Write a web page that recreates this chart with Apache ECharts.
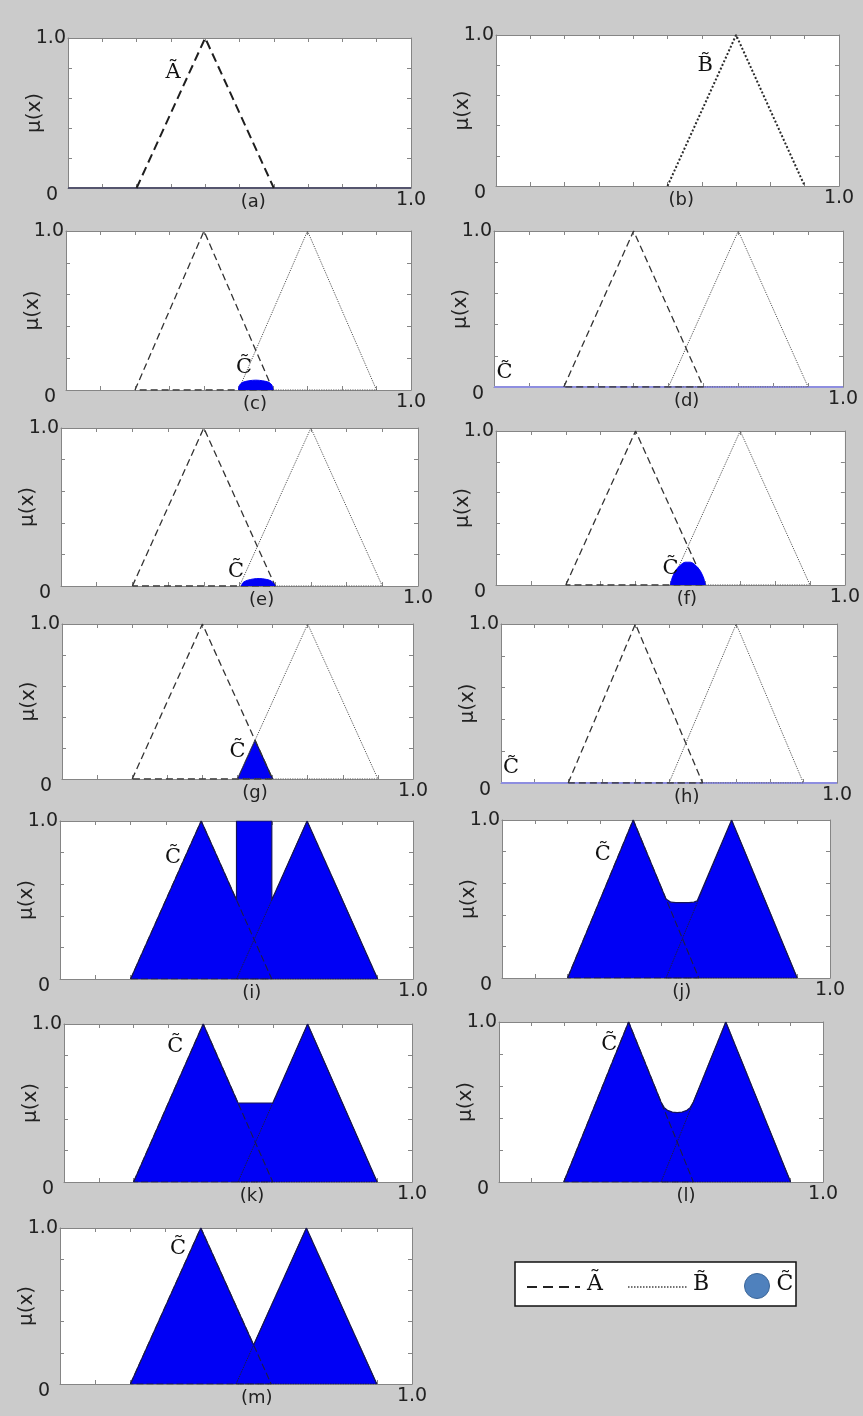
<!DOCTYPE html>
<html>
<head>
<meta charset="utf-8">
<script src="https://cdn.jsdelivr.net/npm/echarts@6/dist/echarts.min.js"></script>
<style>
html,body{margin:0;padding:0;background:#cbcbcb;}
#c{width:863px;height:1416px;}
</style>
</head>
<body>
<div id="c"></div>
<script>
// ---- data ----
const panelTitles = ['(a)','(b)','(c)','(d)','(e)','(f)','(g)','(h)','(i)','(j)','(k)','(l)','(m)'];
const xTickLabel = '1.0';
const yTickLabels = ['0','1.0'];
const A_pts = [[0.2,0],[0.4,1],[0.6,0],[0.2,0]];
const B_pts = [[0.5,0],[0.7,1],[0.9,0],[0.5,0]];
const C_zero = [[0,0],[1,0]];
const C_c = [[0.5,0],[0.503,0.03],[0.512,0.048],[0.53,0.058],[0.55,0.062],[0.57,0.058],[0.588,0.048],[0.597,0.03],[0.6,0]];
const C_e = [[0.505,0],[0.51,0.022],[0.522,0.036],[0.54,0.045],[0.555,0.047],[0.575,0.042],[0.59,0.03],[0.6,0]];
const C_f = [[0.5,0],[0.504,0.04],[0.514,0.09],[0.528,0.128],[0.543,0.148],[0.557,0.148],[0.572,0.128],[0.586,0.09],[0.596,0.04],[0.6,0]];
const C_g = [[0.5,0],[0.55,0.25],[0.6,0]];
const C_i = [[0.2,0],[0.4,1],[0.5,0.5],[0.5,1],[0.6,1],[0.6,0.5],[0.7,1],[0.9,0]];
const C_j = [[0.2,0],[0.4,1],[0.5,0.5],[0.505,0.488],[0.515,0.48],[0.53,0.477],[0.57,0.477],[0.585,0.48],[0.595,0.488],[0.6,0.5],[0.7,1],[0.9,0]];
const C_k = [[0.2,0],[0.4,1],[0.5,0.5],[0.6,0.5],[0.7,1],[0.9,0]];
const C_l = [[0.2,0],[0.4,1],[0.5,0.5],[0.51,0.465],[0.52,0.448],[0.535,0.437],[0.55,0.434],[0.565,0.437],[0.58,0.448],[0.59,0.465],[0.6,0.5],[0.7,1],[0.9,0]];
const C_m = [[0.2,0],[0.4,1],[0.55,0.25],[0.7,1],[0.9,0]];
// set-label text and anchor (data coordinates)
const setLabels = [
  ['Ã',[0.306,0.77]], ['B̃',[0.61,0.80]], ['C̃',[0.516,0.14]], ['C̃',[0.03,0.09]],
  ['C̃',[0.49,0.09]], ['C̃',[0.50,0.11]], ['C̃',[0.50,0.18]], ['C̃',[0.03,0.095]],
  ['C̃',[0.32,0.77]], ['C̃',[0.307,0.78]], ['C̃',[0.32,0.86]], ['C̃',[0.34,0.86]], ['C̃',[0.335,0.87]]
];

// ---- layout ----
const rects = [
  [68,38,343,150],[496,35,343,151],
  [66,231,345,159],[494,231,349,156],
  [61,428,357,158],[496,431,351,154],
  [62,624,351,155],[501,624,336,159],
  [60,821,353,158],[502,820,328,158],
  [64,1024,348,158],[499,1022,324,160],
  [60,1228,352,156]
];
const titleFrac = [0.54,0.54,0.548,0.552,0.562,0.547,0.55,0.553,0.543,0.548,0.54,0.577,0.559];

// panel content
const panels = [
  {A:'thick', B:null, C:C_zero, kind:'zeroDark', open:true},
  {A:null, B:'thick', C:null, open:true},
  {A:'thin', B:'thin', C:C_c, kind:'bump'},
  {A:'thin', B:'thin', C:C_zero, kind:'zero'},
  {A:'thin', B:'thin', C:C_e, kind:'bump'},
  {A:'thin', B:'thin', C:C_f, kind:'bump'},
  {A:'thin', B:'thin', C:C_g, kind:'fill'},
  {A:'thin', B:'thin', C:C_zero, kind:'zero'},
  {A:'dark', B:'dark', C:C_i, kind:'fill'},
  {A:'dark', B:'dark', C:C_j, kind:'fill'},
  {A:'dark', B:'dark', C:C_k, kind:'fill'},
  {A:'dark', B:'dark', C:C_l, kind:'fill'},
  {A:'dark', B:'dark', C:C_m, kind:'fill'}
];

const FONT = 'DejaVu Sans';
const SERIF = 'DejaVu Serif';
const AX = '#858585';
const TXT = '#222222';
const BLUE = '#0000f5';

const grid = [], xAxis = [], yAxis = [], series = [];
rects.forEach((r, i) => {
  grid.push({left:r[0], top:r[1], width:r[2], height:r[3], show:true, backgroundColor:'#ffffff', borderWidth:0});
  const shift = (titleFrac[i]-0.5)*r[2];
  xAxis.push({
    gridIndex:i, type:'value', min:0, max:1, interval:0.1, position:'bottom',
    axisLine:{show:true, onZero:false, lineStyle:{color:AX, width:1}},
    axisTick:{show:true, inside:true, length:4, lineStyle:{color:AX}},
    splitLine:{show:false},
    axisLabel:{show:true, margin:3, showMaxLabel:true, showMinLabel:true,
      formatter:v => Math.abs(v-1)<1e-9 ? xTickLabel : '',
      fontFamily:FONT, fontSize:19, color:TXT},
    name:panelTitles[i], nameLocation:'middle', nameGap:5, nameMoveOverlap:false,
    nameTextStyle:{fontFamily:FONT, fontSize:18, color:TXT, verticalAlign:'top',
      padding: shift>0 ? [0,0,0,2*shift] : [0,-2*shift,0,0]}
  });
  xAxis.push({
    gridIndex:i, type:'value', min:0, max:1, interval:0.1, position:'top',
    axisLine:{show:true, onZero:false, lineStyle:{color:AX, width:1}},
    axisTick:{show:true, inside:true, length:4, lineStyle:{color:AX}},
    splitLine:{show:false}, axisLabel:{show:false}
  });
  yAxis.push({
    gridIndex:i, type:'value', min:0, max:1, interval:0.2, position:'left',
    axisLine:{show:true, onZero:false, lineStyle:{color:AX, width:1}},
    axisTick:{show:true, inside:true, length:4, lineStyle:{color:AX}},
    splitLine:{show:false},
    axisLabel:{show:true, margin:2, showMaxLabel:true, showMinLabel:true,
      formatter:v => v===0 ? '{z|'+yTickLabels[0]+'}' : (Math.abs(v-1)<1e-9 ? '{o|'+yTickLabels[1]+'}' : ''),
      rich:{
        z:{fontFamily:FONT, fontSize:19, color:TXT, padding:[14,8,0,0]},
        o:{fontFamily:FONT, fontSize:19, color:TXT}
      }},
    name:'μ(x)', nameLocation:'middle', nameGap:23, nameMoveOverlap:false,
    nameTextStyle:{fontFamily:FONT, fontSize:20, color:TXT}
  });
  yAxis.push({
    gridIndex:i, type:'value', min:0, max:1, interval:0.2, position:'right',
    axisLine:{show:true, onZero:false, lineStyle:{color:AX, width:1}},
    axisTick:{show:true, inside:true, length:4, lineStyle:{color:AX}},
    splitLine:{show:false}, axisLabel:{show:false}
  });

  const p = panels[i];
  const xi = 2*i, yi = 2*i;
  const base = {type:'line', xAxisIndex:xi, yAxisIndex:yi, symbol:'none', showSymbol:false, silent:true, animation:false};
  const lineZ = (p.kind==='bump') ? 2 : 4;
  const cZ = (p.kind==='bump') ? 5 : 3;
  if (p.C) {
    let s;
    if (p.kind==='zero') {
      s = Object.assign({}, base, {data:p.C, z:cZ, lineStyle:{color:'#8e8ee0', width:2}});
    } else if (p.kind==='zeroDark') {
      s = Object.assign({}, base, {data:p.C, z:1, lineStyle:{color:'#55556e', width:2}});
    } else if (p.kind==='bump') {
      s = Object.assign({}, base, {data:p.C, z:cZ, smooth:0.3,
        lineStyle:{color:BLUE, width:1}, areaStyle:{color:BLUE, opacity:1}});
    } else {
      s = Object.assign({}, base, {data:p.C, z:cZ,
        lineStyle:{color:'#14145a', width:1.2}, areaStyle:{color:BLUE, opacity:1}});
    }
    series.push(s);
  }
  if (p.A) {
    const st = p.A==='thick' ? {color:'#1e1e1e', width:2, type:[9,5]}
             : p.A==='dark' ? {color:'#1a1a4a', width:1.1, type:[7,3]}
             : {color:'#333333', width:1.3, type:[7,4]};
    series.push(Object.assign({}, base, {data: p.open ? A_pts.slice(0,3) : A_pts, z:lineZ, lineStyle:st}));
  }
  if (p.B) {
    const st = p.B==='thick' ? {color:'#2a2a2a', width:2, type:[2,2]}
             : p.B==='dark' ? {color:'#1a1a4a', width:1, type:[1.5,1]}
             : {color:'#555555', width:1, type:[1.2,1.2]};
    series.push(Object.assign({}, base, {data: p.open ? B_pts.slice(0,3) : B_pts, z:lineZ, lineStyle:st}));
  }
  series.push({
    type:'scatter', xAxisIndex:xi, yAxisIndex:yi, silent:true, animation:false, z:10,
    symbolSize:0, itemStyle:{color:'#111111', opacity:1},
    data:[{value:setLabels[i][1], name:setLabels[i][0]}],
    label:{show:true, position:'inside', formatter:'{b}', fontFamily:SERIF, fontSize:21, color:'#111111', textBorderWidth:0, opacity:1}
  });
});

// legend box (graphics)
const graphic = [
  {type:'rect', shape:{x:515, y:1262, width:281, height:44}, style:{fill:'#ffffff', stroke:'#111111', lineWidth:1.5}, z:20},
  {type:'line', shape:{x1:527, y1:1287, x2:580, y2:1287}, style:{stroke:'#222222', lineWidth:2, lineDash:[10,6]}, z:21},
  {type:'text', x:595, y:1284, style:{text:'Ã', font:'22px "DejaVu Serif"', fill:'#111111', textAlign:'center', textVerticalAlign:'middle'}, z:21},
  {type:'line', shape:{x1:628, y1:1287, x2:688, y2:1287}, style:{stroke:'#444444', lineWidth:1.5, lineDash:[1.5,1.5]}, z:21},
  {type:'text', x:701, y:1284, style:{text:'B̃', font:'22px "DejaVu Serif"', fill:'#111111', textAlign:'center', textVerticalAlign:'middle'}, z:21},
  {type:'circle', shape:{cx:757, cy:1286, r:12.5}, style:{fill:'#4f81bd', stroke:'#3b6699', lineWidth:1}, z:21},
  {type:'text', x:785, y:1284, style:{text:'C̃', font:'22px "DejaVu Serif"', fill:'#111111', textAlign:'center', textVerticalAlign:'middle'}, z:21}
];

const chart = echarts.init(document.getElementById('c'), null, {renderer:'canvas'});
chart.setOption({
  backgroundColor:'#cbcbcb',
  animation:false,
  grid, xAxis, yAxis, series, graphic
});
</script>
</body>
</html>
